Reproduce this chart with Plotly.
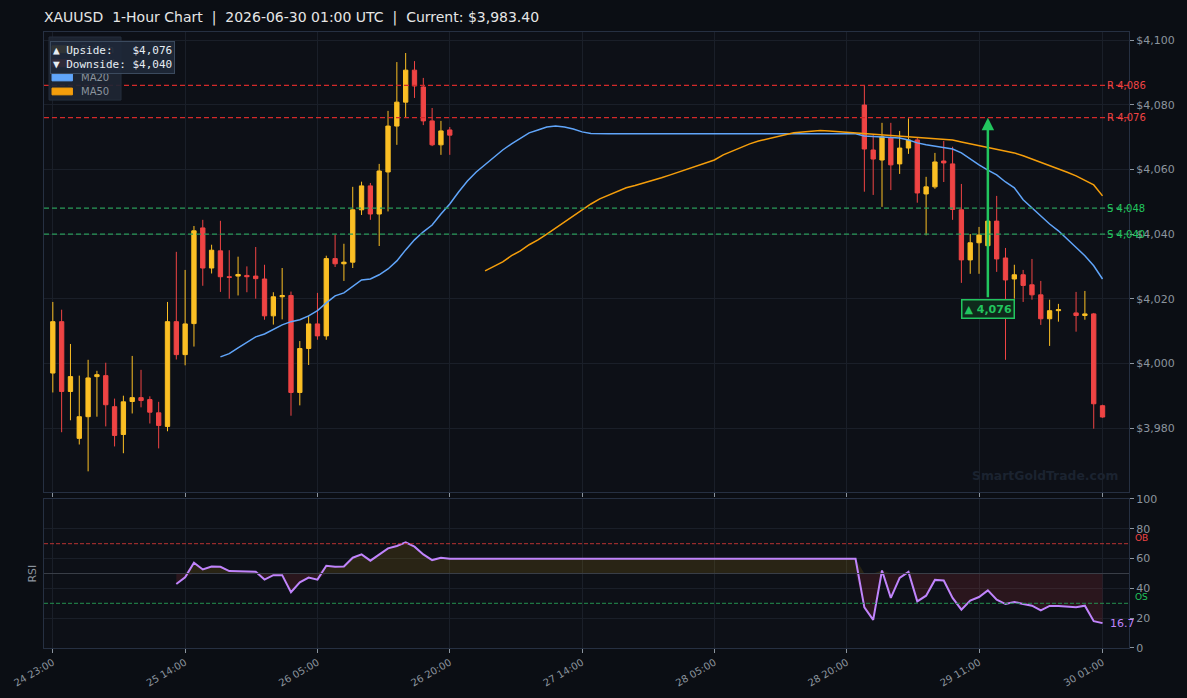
import plotly.graph_objects as go
from plotly.subplots import make_subplots

# ---------------- data ----------------
bar_idx = list(range(0, 46)) + list(range(92, 115)) + [116, 117, 118, 119]
opens = [3997.0, 4012.9, 3991.3, 3976.8, 3983.5, 3995.9, 3996.2, 3986.6, 3978.0, 3988.2,
         3989.4, 3988.8, 3984.7, 3980.5, 4012.9, 4002.7, 4012.3, 4041.9, 4029.5, 4034.8,
         4026.8, 4027.0, 4027.2, 4027.0, 4026.1, 4014.7, 4020.6, 4021.0, 3991.0, 4004.6,
         4012.2, 4008.5, 4032.4, 4030.8, 4031.3, 4047.5, 4054.9, 4046.2, 4059.2, 4073.4,
         4080.8, 4090.7, 4085.5, 4075.0, 4067.6, 4072.2,
         4079.9, 4066.0, 4062.9, 4069.7, 4061.7, 4066.6, 4069.1, 4052.4, 4054.6, 4062.6,
         4061.7, 4047.5, 4032.0, 4037.3, 4036.4, 4044.0, 4032.6, 4026.1, 4027.4, 4024.3,
         4021.2, 4013.8, 4016.3,
         4015.6, 4014.8, 4015.3, 3986.9]
highs = [4019.0, 4016.6, 4006.0, 3996.2, 4001.1, 3997.7, 4000.2, 3989.1, 3990.0, 4002.3,
         3998.0, 3989.8, 3988.1, 4019.0, 4034.5, 4028.9, 4042.5, 4044.4, 4036.7, 4044.1,
         4035.0, 4033.0, 4030.0, 4036.0, 4030.5, 4022.0, 4029.5, 4022.2, 4006.9, 4014.8,
         4021.8, 4033.3, 4039.8, 4037.0, 4054.6, 4056.2, 4055.8, 4061.7, 4078.1, 4093.2,
         4096.0, 4093.5, 4088.3, 4079.0, 4075.0, 4073.1,
         4085.8, 4070.6, 4074.4, 4074.4, 4071.9, 4075.8, 4069.7, 4057.7, 4065.1, 4068.8,
         4067.0, 4055.5, 4040.0, 4042.2, 4048.0, 4051.8, 4035.7, 4030.5, 4028.9, 4032.3,
         4025.5, 4019.7, 4018.4,
         4022.1, 4022.4, 4015.6, 3987.2]
lows = [3991.0, 3978.7, 3982.4, 3974.9, 3966.6, 3983.5, 3980.5, 3974.3, 3972.2, 3984.5,
        3986.4, 3981.4, 3973.7, 3979.0, 4001.2, 3999.4, 4005.2, 4024.0, 4027.8, 4022.1,
        4020.0, 4021.0, 4022.0, 4020.0, 4013.5, 4012.0, 4013.6, 3983.8, 3987.0, 3999.5,
        4007.3, 4007.3, 4029.8, 4025.5, 4029.5, 4045.9, 4044.4, 4036.3, 4047.0, 4067.6,
        4075.9, 4082.1, 4073.7, 4067.2, 4064.5, 4064.5,
        4053.1, 4052.1, 4048.4, 4053.6, 4058.6, 4064.8, 4049.7, 4039.6, 4054.0, 4056.1,
        4044.4, 4024.9, 4027.7, 4027.7, 4030.0, 4028.3, 4001.1, 4020.0, 4019.0, 4019.7,
        4011.9, 4005.4, 4012.9,
        4009.8, 4013.5, 3979.8, 3983.2]
closes = [4012.9, 3991.3, 3995.9, 3983.5, 3995.5, 3996.5, 3987.2, 3977.7, 3988.1, 3989.4,
          3988.5, 3984.9, 3980.8, 4012.9, 4002.7, 4012.2, 4041.0, 4029.5, 4035.0, 4026.8,
          4026.6, 4027.5, 4026.8, 4026.2, 4014.7, 4020.6, 4021.0, 3991.0, 4004.6, 4012.2,
          4008.5, 4032.4, 4030.8, 4031.3, 4047.5, 4054.9, 4046.2, 4059.5, 4073.4, 4080.8,
          4090.7, 4085.8, 4075.0, 4067.6, 4071.9, 4070.6,
          4066.3, 4063.2, 4070.1, 4061.4, 4066.6, 4069.1, 4052.7, 4054.6, 4062.3, 4062.0,
          4047.6, 4032.0, 4037.3, 4039.7, 4044.0, 4032.3, 4025.8, 4027.4, 4024.1, 4021.2,
          4013.8, 4016.3, 4016.6,
          4014.8, 4015.3, 3987.5, 3983.4]

ma20_idx = list(range(19, 64)) + [91] + list(range(92, 120))
ma20_val = [4002.0, 4003.0, 4004.8, 4006.4, 4008.2, 4009.1, 4010.4, 4011.9, 4012.9, 4013.5,
            4014.7, 4016.3, 4018.7, 4020.9, 4021.8, 4023.7, 4025.8, 4026.1, 4027.4, 4029.2,
            4031.7, 4035.1, 4038.2, 4040.7, 4042.8, 4046.2, 4049.3, 4053.0, 4056.4, 4059.2,
            4061.4, 4063.8, 4066.0, 4067.9, 4069.7, 4071.3, 4072.2, 4073.1, 4073.4, 4073.1,
            4072.5, 4071.6, 4071.1, 4071.0, 4071.0,
            4071.0,
            4070.3, 4070.2, 4070.0, 4069.9, 4069.7, 4069.1, 4068.2, 4067.6, 4067.2, 4066.9,
            4066.3, 4065.1, 4063.2, 4061.4, 4059.8, 4058.3, 4056.1, 4054.3, 4050.6, 4048.1,
            4045.6, 4043.1, 4041.0, 4038.5, 4036.0, 4033.3, 4030.2, 4026.1]

ma50_idx = list(range(49, 120))
ma50_val = [4028.6, 4029.9, 4031.4, 4033.3, 4034.8, 4036.7, 4038.2, 4040.0, 4041.9, 4043.8,
            4045.6, 4047.5, 4049.3, 4050.9, 4052.1, 4053.3, 4054.3, 4055.0, 4055.8, 4056.4,
            4057.4, 4058.3, 4059.2, 4060.1, 4061.1, 4062.0, 4062.9, 4064.5, 4065.7, 4066.9,
            4067.9, 4068.8, 4069.4, 4070.2, 4070.8, 4071.3, 4071.6, 4071.9, 4072.0, 4071.9,
            4071.7, 4071.4, 4071.3, 4071.0, 4070.8, 4070.6, 4070.5, 4070.3, 4070.2, 4070.0,
            4069.7, 4069.6, 4069.4, 4069.1, 4068.5, 4067.9, 4067.4, 4066.9, 4066.3, 4065.7,
            4065.1, 4064.2, 4063.2, 4062.3, 4061.2, 4060.1, 4059.1, 4058.0, 4056.7, 4055.2,
            4051.8]

rsi_idx = list(range(14, 46)) + [91] + list(range(92, 120))
rsi_val = [43.0, 47.5, 57.2, 52.7, 54.7, 54.5, 51.6, 51.6, 51.4, 51.1,
           45.9, 48.9, 48.9, 37.4, 44.1, 47.3, 45.9, 55.2, 54.5, 54.7,
           60.6, 62.8, 58.6, 62.8, 66.9, 68.5, 70.9, 68.0, 62.8, 59.0,
           60.6, 59.9,
           59.9,
           27.3, 18.9, 52.0, 33.6, 47.1, 51.1, 31.3, 35.1, 45.7, 45.3,
           33.6, 25.7, 31.8, 34.2, 38.7, 32.4, 29.5, 30.9, 29.5, 28.4,
           25.2, 28.2, 28.2, 27.7, 27.3, 28.4, 18.0, 16.7]

tick_idx = [0, 15, 30, 45, 60, 75, 90, 105, 119]
tick_lbl = ["24 23:00", "25 14:00", "26 05:00", "26 20:00", "27 14:00",
            "28 05:00", "28 20:00", "29 11:00", "30 01:00"]

legend_names = ["Bullish", "Bearish", "MA20", "MA50"]
resistance = [4086, 4076]
support = [4048, 4040]
upside, downside = 4076, 4040
target_from, target_to = 4020, 4076
target_idx = 106
current_price = 3983.40
rsi_last = 16.7

# ---------------- styling ----------------
BG = "#0b0e14"
PLOT_BG = "#0d1017"
GRID = "#1a1f29"
AXIS = "#263042"
TXT = "#8b949e"
BULL = "#fbbf24"
BEAR = "#ef4444"
MA20C = "#60a5fa"
MA50C = "#f59e0b"
FONT = "DejaVu Sans"

fig = make_subplots(rows=2, cols=1, shared_xaxes=False, vertical_spacing=0.0113,
                    row_heights=[0.755, 0.245])

fig.add_trace(go.Candlestick(
    x=bar_idx, open=opens, high=highs, low=lows, close=closes,
    increasing=dict(line=dict(color=BULL, width=1), fillcolor=BULL),
    decreasing=dict(line=dict(color=BEAR, width=1), fillcolor=BEAR),
    whiskerwidth=0, showlegend=False, hoverinfo="skip"), row=1, col=1)

fig.add_trace(go.Scatter(x=ma20_idx, y=ma20_val, mode="lines",
                         line=dict(color=MA20C, width=1.5), showlegend=False,
                         hoverinfo="skip"), row=1, col=1)
fig.add_trace(go.Scatter(x=ma50_idx, y=ma50_val, mode="lines",
                         line=dict(color=MA50C, width=1.5), showlegend=False,
                         hoverinfo="skip"), row=1, col=1)

# RSI fills
rsi_hi = [max(v, 50) for v in rsi_val]
rsi_lo = [min(v, 50) for v in rsi_val]
base = [50] * len(rsi_val)
fig.add_trace(go.Scatter(x=rsi_idx, y=base, mode="lines", line=dict(width=0),
                         showlegend=False, hoverinfo="skip"), row=2, col=1)
fig.add_trace(go.Scatter(x=rsi_idx, y=rsi_hi, mode="lines", line=dict(width=0),
                         fill="tonexty", fillcolor="rgba(234,179,8,0.13)",
                         showlegend=False, hoverinfo="skip"), row=2, col=1)
fig.add_trace(go.Scatter(x=rsi_idx, y=base, mode="lines", line=dict(width=0),
                         showlegend=False, hoverinfo="skip"), row=2, col=1)
fig.add_trace(go.Scatter(x=rsi_idx, y=rsi_lo, mode="lines", line=dict(width=0),
                         fill="tonexty", fillcolor="rgba(239,68,68,0.13)",
                         showlegend=False, hoverinfo="skip"), row=2, col=1)
fig.add_trace(go.Scatter(x=rsi_idx, y=rsi_val, mode="lines",
                         line=dict(color="#c084fc", width=2), showlegend=False,
                         hoverinfo="skip"), row=2, col=1)

# S/R lines
for lv in resistance:
    fig.add_hline(y=lv, line=dict(color="#d42a2a", width=1.2, dash="5px,3px"), row=1, col=1)
    fig.add_annotation(x=0.9775, xref="paper", y=lv, yref="y", text=f"R {lv:,}",
                       showarrow=False, xanchor="left", yanchor="middle",
                       font=dict(color="#ef4444", size=10, family=FONT))
for lv in support:
    fig.add_hline(y=lv, line=dict(color="#2a9a5a", width=1.2, dash="5px,3px"), row=1, col=1)
    fig.add_annotation(x=0.9775, xref="paper", y=lv, yref="y", text=f"S {lv:,}",
                       showarrow=False, xanchor="left", yanchor="middle",
                       font=dict(color="#22c55e", size=10, family=FONT))

# RSI reference lines
fig.add_hline(y=70, line=dict(color="#b83232", width=1, dash="4px,2px"), row=2, col=1)
fig.add_hline(y=30, line=dict(color="#23904f", width=1, dash="4px,2px"), row=2, col=1)
fig.add_hline(y=50, line=dict(color="#3a3f48", width=1), row=2, col=1)

fig.add_annotation(x=1.004, xref="paper", y=74, yref="y2", text="OB", showarrow=False,
                   xanchor="left", yanchor="middle", font=dict(color="#ef4444", size=9, family=FONT))
fig.add_annotation(x=1.004, xref="paper", y=34, yref="y2", text="OS", showarrow=False,
                   xanchor="left", yanchor="middle", font=dict(color="#22c55e", size=9, family=FONT))
fig.add_annotation(x=0.9805, xref="paper", y=rsi_last, yref="y2", text=f"{rsi_last}",
                   showarrow=False, xanchor="left", yanchor="middle",
                   font=dict(color="#c084fc", size=11, family=FONT))

# target arrow + label
fig.add_annotation(x=target_idx, y=target_to, ax=target_idx, ay=target_from,
                   xref="x", yref="y", axref="x", ayref="y", text="",
                   showarrow=True, arrowhead=2, arrowsize=1, arrowwidth=2.5,
                   arrowcolor="#22c55e")
fig.add_annotation(x=target_idx, y=target_from - 3.2, xref="x", yref="y",
                   text=f"<b>▲ {upside:,}</b>", showarrow=False, xanchor="center",
                   bgcolor="#0f2a1c", bordercolor="#22c55e", borderwidth=1.5, borderpad=2,
                   font=dict(color="#22c55e", size=11, family=FONT))

# custom legend (box, swatches, labels)
fig.add_shape(type="rect", xref="paper", yref="paper", x0=0.0046, x1=0.071,
              y0=0.8895, y1=0.9919, fillcolor="rgba(30,38,52,0.92)",
              line=dict(color="#252e3d", width=1), layer="above")
leg_cols = [BULL, BEAR, MA20C, MA50C]
leg_y = [0.9720, 0.9494, 0.9262, 0.9035]
for nm, col, yy in zip(legend_names, leg_cols, leg_y):
    fig.add_shape(type="rect", xref="paper", yref="paper", x0=0.0074, x1=0.0262,
                  y0=yy - 0.0055, y1=yy + 0.0055, fillcolor=col,
                  line=dict(color=col, width=1), layer="above")
    fig.add_annotation(x=0.0325, xref="paper", y=yy, yref="paper", text=nm,
                       showarrow=False, xanchor="left", yanchor="middle",
                       font=dict(color=TXT, size=10, family=FONT))

# info box
fig.add_annotation(x=0.0055, xref="paper", y=0.985, yref="paper",
                   text=f"▲ Upside:   ${upside:,}<br>▼ Downside: ${downside:,}",
                   showarrow=False, xanchor="left", yanchor="top", align="left",
                   bgcolor="rgba(30,40,56,0.92)", bordercolor="#3b4a5e", borderwidth=1,
                   borderpad=2, font=dict(color="#e6edf3", size=11, family="DejaVu Sans Mono"))

# watermark
fig.add_annotation(x=0.9226, xref="paper", y=3965.2, yref="y", text="<b>SmartGoldTrade.com</b>",
                   showarrow=False, xanchor="center", yanchor="middle",
                   font=dict(color="#1b2330", size=12.4, family=FONT))

fig.add_annotation(x=-0.011, xref="paper", y=50, yref="y2", text="RSI", textangle=-90,
                   showarrow=False, xanchor="center", yanchor="middle",
                   font=dict(size=11, color=TXT, family=FONT))

fig.update_layout(
    width=1187, height=698,
    margin=dict(l=44, r=58, t=32, b=50),
    paper_bgcolor=BG, plot_bgcolor=PLOT_BG,
    font=dict(family=FONT, color=TXT, size=11),
    title=dict(text=f"XAUUSD  1-Hour Chart  |  2026-06-30 01:00 UTC  |  Current: ${current_price:,.2f}",
               x=0.037, xanchor="left", y=0.9756, yanchor="middle",
               font=dict(size=14, color="#e6e6e6", family=FONT)),
    showlegend=False,
)

xcommon = dict(range=[-1.0, 122.0], tickmode="array", tickvals=tick_idx,
               showgrid=True, gridcolor=GRID, zeroline=False,
               showline=True, linecolor=AXIS, mirror=True, automargin=False,
               ticks="outside", ticklen=4, tickcolor=TXT)
fig.update_xaxes(**xcommon, ticktext=[""] * len(tick_idx), rangeslider_visible=False, row=1, col=1)
fig.update_xaxes(**xcommon, ticktext=tick_lbl, tickangle=-30,
                 tickfont=dict(size=10, color=TXT), row=2, col=1)

fig.update_yaxes(range=[3960.2, 4102.5], side="right", dtick=20, tickprefix="$",
                 tickformat=",.0f", showgrid=True, gridcolor=GRID, zeroline=False,
                 showline=True, linecolor=AXIS, mirror=True, ticks="outside", automargin=False,
                 ticklen=4, tickcolor=TXT, tickfont=dict(size=11, color=TXT),
                 domain=[0.2532, 1.0], row=1, col=1)
fig.update_yaxes(range=[0, 100], side="right", dtick=20, showgrid=True, gridcolor=GRID,
                 zeroline=False, showline=True, linecolor=AXIS, mirror=True, automargin=False,
                 ticks="outside", ticklen=4, tickcolor=TXT,
                 tickfont=dict(size=11, color=TXT), domain=[0.0, 0.2419], row=2, col=1)

fig.write_html("out.html")
